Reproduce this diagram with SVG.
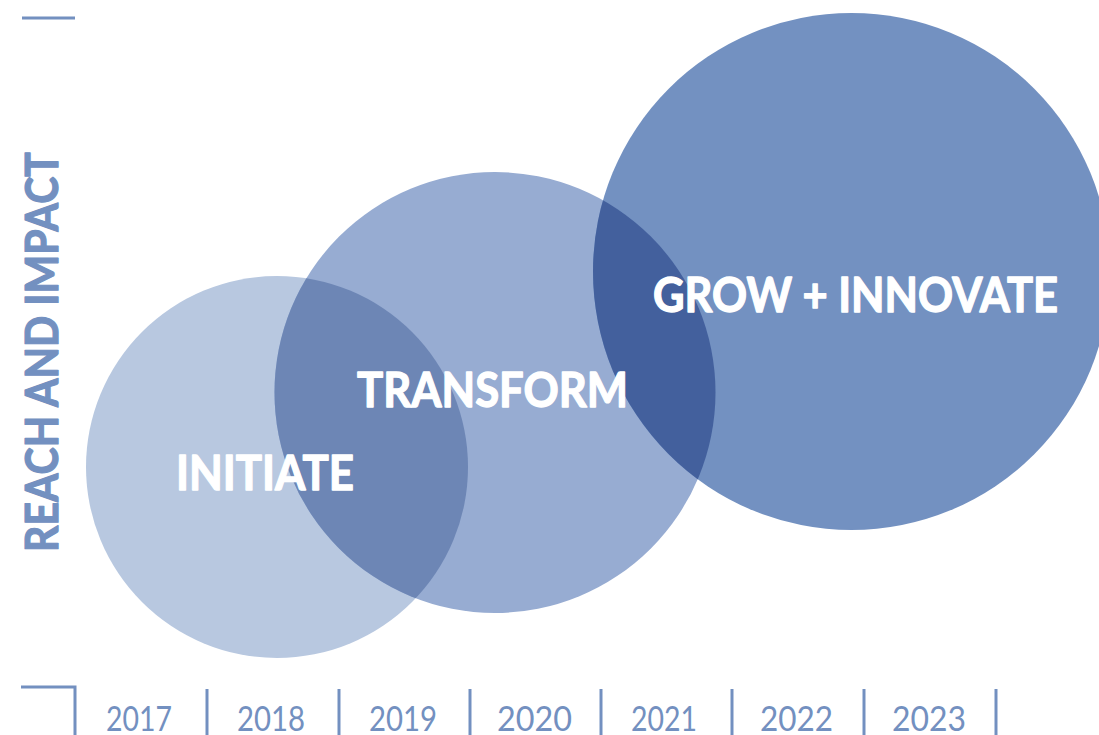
<svg xmlns="http://www.w3.org/2000/svg" width="1099" height="735" viewBox="0 0 1099 735">
  <style>
    .axis { stroke: #7390c0; stroke-width: 3; fill: none; }
    .year { font-family: Lato, "Open Sans", "Liberation Sans", sans-serif; font-weight: 400; font-size: 35px; fill: #7390c0; }
    .stage { font-family: Lato, "Open Sans", "Liberation Sans", sans-serif; font-weight: 700; font-size: 48px; fill: #ffffff; stroke: #ffffff; stroke-width: 1.3; stroke-linejoin: round; }
    .ylabel { font-family: Lato, "Open Sans", "Liberation Sans", sans-serif; font-weight: 700; font-size: 46px; fill: #7390c0; stroke: #7390c0; stroke-width: 1.2; stroke-linejoin: round; }
  </style>
  <defs>
    <clipPath id="clip-c2"><circle cx="495" cy="392.5" r="220.5"/></clipPath>
  </defs>
  <rect width="1099" height="735" fill="#ffffff"/>

  <!-- stage circles -->
  <g id="initiate">
    <circle cx="277" cy="467" r="191" fill="#b8c8e0"/>
  </g>
  <g id="transform">
    <circle cx="495" cy="392.5" r="220.5" fill="#97acd2"/>
    <!-- overlap with INITIATE -->
    <circle cx="277" cy="467" r="191" fill="#6d86b5" clip-path="url(#clip-c2)"/>
  </g>
  <g id="grow-innovate">
    <circle cx="851.5" cy="271.5" r="258.5" fill="#7391c1"/>
    <!-- overlap with TRANSFORM -->
    <circle cx="851.5" cy="271.5" r="258.5" fill="#43609d" clip-path="url(#clip-c2)"/>
  </g>

  <!-- stage labels -->
  <text class="stage" x="176" y="490" textLength="178" lengthAdjust="spacingAndGlyphs">INITIATE</text>
  <text class="stage" x="357" y="407" textLength="271" lengthAdjust="spacingAndGlyphs">TRANSFORM</text>
  <text class="stage" x="653" y="312" textLength="405" lengthAdjust="spacingAndGlyphs">GROW + INNOVATE</text>

  <!-- axes -->
  <g id="axes">
    <line class="axis" x1="22" y1="18" x2="75" y2="18"/>
    <polyline class="axis" points="21,687 75,687 75,735"/>
    <line class="axis" x1="207" y1="689" x2="207" y2="735"/>
    <line class="axis" x1="339" y1="689" x2="339" y2="735"/>
    <line class="axis" x1="470" y1="689" x2="470" y2="735"/>
    <line class="axis" x1="601" y1="689" x2="601" y2="735"/>
    <line class="axis" x1="732" y1="689" x2="732" y2="735"/>
    <line class="axis" x1="864" y1="689" x2="864" y2="735"/>
    <line class="axis" x1="996" y1="689" x2="996" y2="735"/>
  </g>

  <text class="ylabel" transform="translate(58,552) rotate(-90)" textLength="400" lengthAdjust="spacingAndGlyphs">REACH AND IMPACT</text>

  <g id="years">
    <text class="year" x="106" y="731" textLength="66" lengthAdjust="spacingAndGlyphs">2017</text>
    <text class="year" x="237" y="731" textLength="68" lengthAdjust="spacingAndGlyphs">2018</text>
    <text class="year" x="369" y="731" textLength="68" lengthAdjust="spacingAndGlyphs">2019</text>
    <text class="year" x="497" y="731" textLength="75" lengthAdjust="spacingAndGlyphs">2020</text>
    <text class="year" x="631" y="731" textLength="66" lengthAdjust="spacingAndGlyphs">2021</text>
    <text class="year" x="760" y="731" textLength="73" lengthAdjust="spacingAndGlyphs">2022</text>
    <text class="year" x="892" y="731" textLength="74" lengthAdjust="spacingAndGlyphs">2023</text>
  </g>
</svg>
